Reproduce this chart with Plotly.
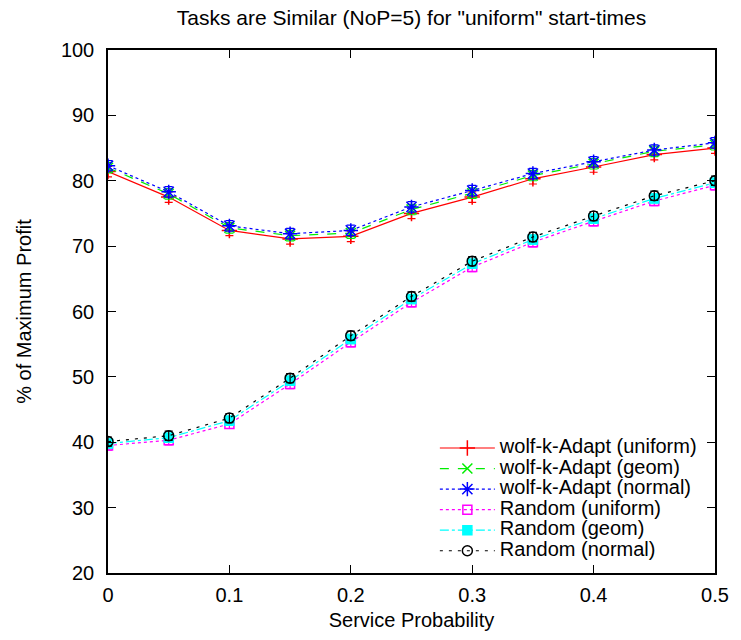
import plotly.graph_objects as go

service_prob = [0.0, 0.05, 0.1, 0.15, 0.2, 0.25, 0.3, 0.35, 0.4, 0.45, 0.5]

wolf_uniform = [81.4, 77.5, 72.4, 71.1, 71.5, 75.0, 77.5, 80.3, 82.1, 84.0, 85.0]
wolf_geom    = [82.0, 78.0, 72.8, 71.6, 72.0, 75.6, 78.1, 80.8, 82.6, 84.5, 85.5]
wolf_normal  = [82.3, 78.3, 73.1, 71.9, 72.4, 76.0, 78.5, 81.1, 82.9, 84.7, 85.8]
rand_uniform = [39.5, 40.3, 42.8, 48.9, 55.3, 61.4, 66.8, 70.6, 73.8, 76.9, 79.3]
rand_geom    = [39.8, 40.7, 43.3, 49.4, 55.8, 61.9, 67.3, 71.0, 74.2, 77.3, 79.7]
rand_normal  = [40.1, 41.0, 43.7, 49.8, 56.3, 62.3, 67.7, 71.4, 74.6, 77.7, 80.0]

err_wolf = [0.8] * 11
err_rand = [0.7] * 11

x_tick_vals = [0, 0.1, 0.2, 0.3, 0.4, 0.5]
x_tick_text = ["0", "0.1", "0.2", "0.3", "0.4", "0.5"]
y_tick_vals = [20, 30, 40, 50, 60, 70, 80, 90, 100]

series = [
    ("wolf-k-Adapt (uniform)", wolf_uniform, err_wolf, "#ff0000", "solid", "cross-thin-open", 11),
    ("wolf-k-Adapt (geom)", wolf_geom, err_wolf, "#00ee00", "dash", "x-thin-open", 10),
    ("wolf-k-Adapt (normal)", wolf_normal, err_wolf, "#0000ff", "dot", "asterisk-open", 12),
    ("Random (uniform)", rand_uniform, err_rand, "#ff00ff", "dot", "square-open", 9),
    ("Random (geom)", rand_geom, err_rand, "#00ffff", "dashdot", "square", 9),
    ("Random (normal)", rand_normal, err_rand, "#000000", "3px,6px", "circle-open", 10),
]

FONT = "Liberation Sans, Arial, Helvetica"

fig = go.Figure()
for name, ys, errs, color, dash, sym, size in series:
    fig.add_trace(go.Scatter(
        x=service_prob, y=ys,
        name='<span style="font-size:20px">' + name + '</span>',
        mode="lines+markers",
        line=dict(color=color, width=1.2, dash=dash),
        marker=dict(symbol=sym, size=size, color=color,
                    line=dict(color=color, width=1.5)),
        error_y=dict(type="data", array=errs, visible=True, color=color,
                     thickness=1.2, width=4),
    ))

axis_common = dict(
    showline=True, linecolor="black", linewidth=1.5, mirror="ticks",
    ticks="inside", ticklen=8, tickcolor="black", showgrid=False,
    zeroline=False, tickfont=dict(family=FONT, size=20, color="black"),
)

fig.update_layout(
    width=741, height=640,
    margin=dict(l=108, r=20, t=50, b=67),
    paper_bgcolor="white", plot_bgcolor="white",
    title=dict(text='Tasks are Similar (NoP=5) for "uniform" start-times',
               xref="paper", x=0.5, xanchor="center", y=0.972, yanchor="middle",
               font=dict(family=FONT, size=21, color="black")),
    xaxis=dict(range=[0, 0.5], tickvals=x_tick_vals, ticktext=x_tick_text,
               ticklabelstandoff=3,
               title=dict(text="Service Probability", standoff=8,
                          font=dict(family=FONT, size=20, color="black")),
               **axis_common),
    yaxis=dict(range=[20, 100], tickvals=y_tick_vals,
               ticklabelstandoff=8,
               title=dict(text="% of Maximum Profit", standoff=24,
                          font=dict(family=FONT, size=20, color="black")),
               **axis_common),
    legend=dict(x=0.98, y=0.012, xanchor="right", yanchor="bottom",
                bgcolor="rgba(0,0,0,0)", tracegroupgap=0,
                font=dict(family=FONT, size=13.5, color="black"),
                itemwidth=55),
    showlegend=True,
)

fig.write_html("out.html")
